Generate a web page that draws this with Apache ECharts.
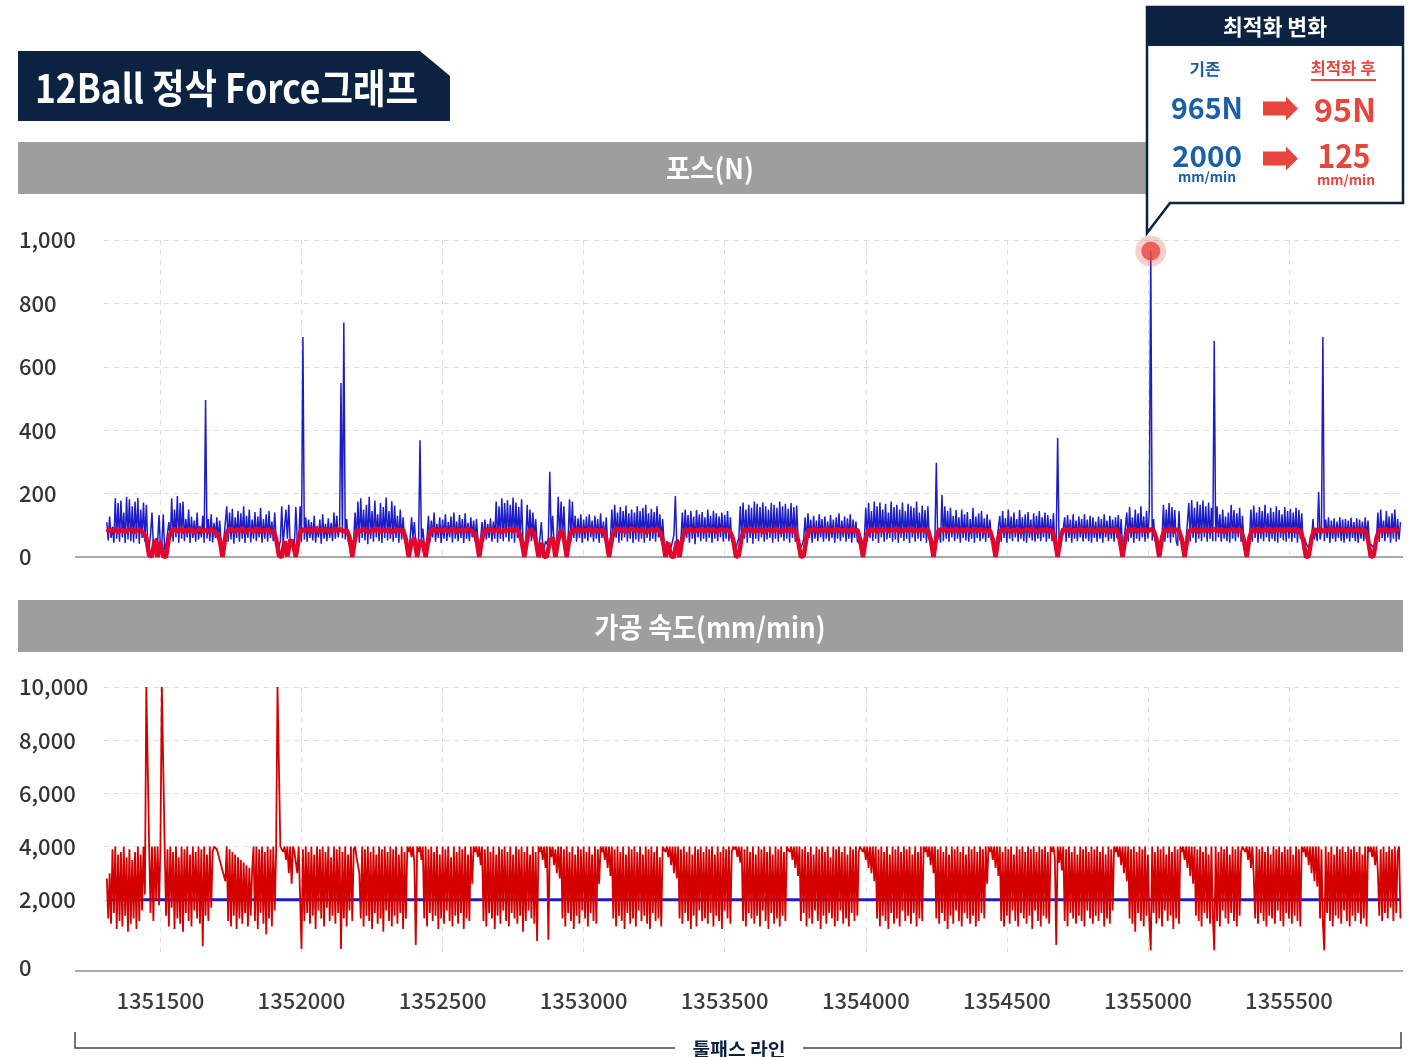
<!DOCTYPE html>
<html><head><meta charset="utf-8">
<script src="https://cdn.jsdelivr.net/npm/echarts@6/dist/echarts.min.js"></script>
<style>html,body{margin:0;padding:0;background:#fff}#c{width:1423px;height:1057px}</style>
</head><body><div id="c"></div>
<script>
// ---- data ----
const xStart = 1351310;      // first sampled toolpath line
const denseStep = 5;         // sampling of forceBefore / speedAfter
const afterStep = 10;        // sampling of forceAfter
const xMin = 1351300;
const xMax = 1355904;

// Force before optimisation (N), one value every 5 lines
const forceBefore = [
110,52,128,60,95,45,185,58,170,48,178,62,140,44,190,55,182,50,160,46,
175,58,186,42,150,60,172,48,165,40,30,72,140,38,25,60,45,132,28,42,
135,22,40,75,110,55,185,48,150,62,192,45,170,58,175,50,120,62,150,44,
128,60,115,48,140,55,98,62,130,45,495,58,120,50,135,46,108,60,125,52,
115,44,25,58,62,160,48,140,55,152,42,125,60,145,48,138,58,160,44,130,
60,150,46,118,58,142,50,128,62,155,45,120,58,135,48,145,60,112,50,140,
62,45,30,50,160,40,35,150,58,165,32,48,55,40,158,52,45,160,48,694,
55,125,48,118,60,110,52,130,45,98,62,118,42,135,58,105,50,122,60,108,
50,140,58,130,62,95,549,60,740,55,120,48,62,45,28,55,140,50,175,45,
185,60,150,52,165,40,190,58,145,48,178,62,135,50,170,44,158,60,188,52,
145,58,176,48,162,60,130,45,150,55,125,62,60,45,28,58,125,60,110,40,
30,50,368,50,90,40,25,58,130,45,115,62,140,48,105,60,125,44,118,58,
135,50,110,62,128,46,140,58,112,50,132,60,120,44,138,58,108,50,125,62,
115,48,120,55,30,60,110,48,118,55,105,60,122,48,112,58,175,45,160,58,
185,50,170,62,180,48,165,58,188,45,172,60,158,52,182,48,30,55,165,48,
150,50,140,58,120,45,30,58,110,35,28,50,40,60,269,55,130,48,30,60,
190,50,175,58,160,45,30,58,182,48,175,60,130,48,122,60,135,45,118,58,
128,50,135,62,115,48,130,58,120,45,138,60,112,50,125,45,30,55,150,48,
165,60,140,45,158,52,145,62,162,48,138,58,150,44,140,55,160,48,145,58,
155,45,165,60,138,50,152,58,142,48,160,62,135,50,120,45,28,50,40,45,
30,50,70,192,45,55,30,58,140,48,150,60,132,45,145,58,128,40,148,62,
135,50,142,58,125,48,150,60,130,45,146,58,138,50,128,62,140,48,132,58,
145,50,125,48,60,45,28,45,60,160,48,172,58,150,45,165,60,155,42,175,
58,168,50,158,62,172,48,160,55,150,60,170,45,165,58,155,48,175,62,160,
50,168,58,152,45,170,60,158,48,162,55,60,30,40,58,125,48,138,60,118,
45,130,58,115,50,135,62,120,48,128,58,112,50,132,60,118,45,125,58,138,
50,115,62,128,48,122,58,135,45,118,60,112,50,45,40,58,30,58,155,48,
170,60,145,50,175,58,160,44,172,62,150,48,168,55,140,60,175,48,158,55,
165,45,150,60,172,50,145,58,168,44,160,62,155,48,175,58,140,50,162,60,
148,45,160,55,50,40,28,55,297,55,80,45,196,50,160,58,145,48,155,62,
130,50,148,58,125,45,150,60,135,52,142,48,120,58,155,45,128,60,138,50,
145,58,122,48,135,60,118,52,45,40,28,55,58,130,48,145,60,122,45,150,
58,128,50,140,62,120,48,148,58,125,50,135,45,142,60,118,52,138,48,130,
58,145,50,125,62,140,48,132,58,120,50,138,45,60,375,50,28,55,58,125,
48,132,60,118,45,135,58,115,50,128,62,120,48,135,58,118,50,130,45,125,
60,112,48,128,58,120,45,135,62,115,50,130,58,118,48,125,60,132,45,120,
28,50,55,140,48,158,60,125,45,150,58,138,50,160,62,128,48,145,58,150,
965,52,120,48,60,40,28,50,58,165,48,150,60,170,45,158,62,148,50,35,
145,50,60,40,28,50,55,170,48,180,60,155,45,175,58,165,50,178,62,160,
48,172,58,155,50,681,50,160,62,135,48,150,58,128,50,140,45,165,58,148,
50,138,62,155,48,130,45,40,28,50,58,150,48,162,60,140,45,158,58,145,
50,165,62,138,48,155,58,142,50,160,45,148,60,135,52,158,48,145,58,152,
48,140,60,155,45,148,58,138,50,60,45,35,28,40,58,120,55,90,50,206,
55,80,694,50,118,60,125,45,115,58,122,48,112,60,125,50,118,45,120,58,
115,48,124,60,110,50,122,45,118,58,112,50,125,62,115,45,40,35,28,40,
58,140,48,150,60,115,50,145,62,128,45,138,58,150,48,120,55,110
];

// Force after optimisation (N), one value every 10 lines
const forceAfter = [
78,86,80,90,76,88,82,79,90,84, 77,88,83,75,60,5,2,55,0,48,
3,0,60,84,88,80,91,78,86,82, 89,76,84,90,80,86,78,88,82,74,
55,0,62,85,90,79,87,83,91,77, 85,88,80,92,78,86,82,89,76,84,
58,4,0,50,2,55,40,0,58,88, 82,90,78,86,91,80,87,83,89,77,
85,90,81,88,79,86,62,0,60,86, 80,89,83,77,88,84,91,79,86,82,
90,76,85,88,80,86,55,0,48,60, 0,52,45,0,58,84,90,78,87,82,
89,80,86,91,77,85,88,81,89,84, 78,58,0,60,86,82,90,79,87,84,
76,88,83,90,80,86,82,52,0,58, 88,80,55,0,45,0,2,50,62,0,
55,86,60,0,62,88,82,90,78,86, 83,91,79,87,84,80,88,56,0,60,
86,90,81,88,78,85,91,83,87,80, 89,76,84,88,82,90,79,56,0,45,
2,0,50,0,60,87,82,90,78,86, 84,91,80,87,83,89,77,85,88,81,
86,79,55,0,5,62,88,83,90,79, 86,82,89,77,85,88,80,91,84,78,
87,83,90,80,86,52,0,4,60,88, 82,90,79,86,84,91,78,87,83,89,
80,85,88,78,90,83,86,55,0,60, 87,81,90,78,86,83,89,80,88,84,
91,77,85,88,82,90,79,86,83,89, 80,86,56,0,62,88,82,90,79,86,
84,91,78,87,83,89,80,85,88,81, 90,78,86,84,55,0,60,87,82,90,
79,86,83,89,77,85,88,81,90,84, 78,87,83,89,80,86,54,0,62,88,
82,90,78,86,84,91,79,87,83,89, 80,85,88,81,90,78,86,84,88,55,
0,60,87,82,90,79,86,83,89,80, 88,84,58,0,62,88,82,90,79,86,
84,56,0,60,87,82,90,78,86,83, 89,80,85,88,81,90,78,86,84,89,
80,87,83,55,0,62,88,82,90,79, 86,84,91,78,87,83,89,80,85,88,
81,90,78,86,54,0,3,60,87,82, 90,79,86,84,91,78,87,83,89,80,
85,88,81,90,78,86,84,55,0,4, 60,87,82,90,79,86,84,88,80
];

// Feed speed after optimisation (mm/min), one value every 5 lines
const speedAfter = [
2800,1300,3000,1100,3900,1500,4000,900,3700,1200,3800,1000,4000,1400,3600,800,3900,1100,3500,1300,
3800,900,4000,1200,3700,1600,4000,2200,10000,10000,4000,1500,4000,1200,4000,2000,4000,1800,4000,10000,
10000,4000,1400,3900,1000,4000,1700,3800,900,4000,1300,3600,1100,4000,800,3900,1500,4000,1200,3700,
1000,4000,1600,3800,1300,4000,1100,3900,250,4000,1400,3700,1200,4000,1700,3800,4000,4000,3900,3700,
3500,3300,3100,2900,2700,4000,1200,3900,1000,3800,1400,3700,900,3600,1300,3500,1100,3400,1500,3300,
1000,3200,1400,3100,4000,1200,4000,900,3900,1500,4000,1100,3800,700,4000,1300,3900,1000,4000,1600,
3800,10000,10000,4000,4000,3800,4000,3500,4000,3000,4000,2600,4000,3800,3400,3000,4000,4000,150,3900,
1200,4000,1500,3800,1100,4000,1400,3700,900,4000,1600,3900,1300,4000,1000,3800,1700,4000,1200,3600,
1400,4000,1100,3900,1500,4000,150,3800,1300,4000,1000,3700,1600,4000,1200,3900,4000,3600,3300,3000,
1300,4000,1000,3900,1400,4000,1200,3800,900,4000,1500,3700,1100,4000,1300,3900,800,4000,1600,3800,
1200,4000,1000,3900,1400,4000,1100,3700,1500,4000,900,3800,1300,4000,3800,4000,3600,4000,3400,300,
4000,3800,4000,3500,4000,1300,4000,1000,3900,1500,4000,1200,3800,1400,4000,900,3700,1300,4000,1100,
3900,1600,4000,1200,3600,1000,4000,1400,3800,1100,4000,1500,3900,900,4000,1300,3700,1200,4000,2600,
4000,3800,4000,3600,4000,3300,4000,1200,3900,1000,4000,1500,3800,1300,4000,900,3700,1400,4000,1100,
3900,1600,4000,1200,3800,1000,4000,1500,3700,1300,4000,1100,3900,1400,4000,800,3800,1200,4000,1600,
3700,1300,4000,1100,3800,450,4000,3800,4000,3500,4000,3200,4000,500,4000,3600,4000,3300,3900,3000,
4000,2800,4000,1300,3900,1000,4000,1500,3800,1200,4000,900,3700,1400,4000,1100,3900,1600,4000,1300,
3800,1000,4000,1500,3700,1200,4000,1100,3900,2600,4000,3800,4000,3500,4000,3200,4000,2900,4000,1300,
3900,1000,4000,1400,3800,1200,4000,900,3700,1500,4000,1100,3900,1300,4000,1000,3800,1600,4000,1200,
3700,1400,4000,1100,3900,900,4000,1500,3800,1200,4000,1300,3600,1000,4000,4000,3800,4000,3600,4000,
3300,4000,3000,4000,2800,4000,1300,3900,1100,4000,1500,3800,1200,4000,900,3700,1400,4000,1000,3900,
1600,4000,1200,3800,1300,4000,1100,3900,1500,4000,1000,3700,1400,4000,1200,3800,900,4000,1600,3900,
1300,4000,1100,3800,4000,3900,4000,3600,4000,3400,4000,1200,3900,1000,4000,1500,3800,1300,4000,1100,
3700,1400,4000,1000,3900,1600,4000,1200,3800,900,4000,1500,3700,1100,4000,1300,3900,1000,4000,1400,
3800,1200,4000,4000,3800,4000,3500,4000,3200,4000,2900,4000,1200,3900,1500,4000,1000,3800,1300,4000,
1100,3700,1600,4000,1200,3900,900,4000,1400,3800,1100,4000,1500,3600,1300,4000,1000,3900,1200,4000,
1600,3800,1100,4000,1300,3700,1000,4000,1500,3900,1200,4000,1400,3800,4000,4000,3800,4000,3500,4000,
3200,4000,3000,4000,2700,4000,1300,3900,1000,4000,1400,3800,1200,4000,900,3700,1500,4000,1100,3900,
1300,4000,1000,3800,1600,4000,1200,3900,1400,4000,1100,3700,1500,4000,1000,3800,1300,4000,1200,4000,
3800,4000,3600,4000,3300,4000,3000,4000,1300,3900,1100,4000,1500,3800,1200,4000,900,3700,1400,4000,
1100,3900,1600,4000,1200,3800,1000,4000,1500,3700,1300,4000,1100,3900,1400,4000,1000,3800,1200,4000,
1500,3900,1300,4000,2600,4000,3800,4000,3500,4000,3200,4000,2900,4000,1200,3800,1000,4000,1400,3900,
1100,4000,1600,3700,1200,4000,1000,3900,1500,4000,1300,3800,1100,4000,1400,3900,900,4000,1600,3800,
1200,4000,1000,3900,1400,4000,1300,3800,1100,4000,3800,4000,3600,300,4000,3400,4000,3100,4000,1200,
3900,1000,4000,1500,3800,1300,4000,1100,3700,1400,4000,1200,3900,1000,4000,1600,3800,1300,4000,1100,
3900,1400,4000,1200,3800,1500,4000,1000,3700,1300,4000,1100,3900,1600,4000,3800,4000,3600,4000,3300,
4000,3000,4000,2700,4000,1300,3900,1100,4000,800,3800,1500,4000,1200,3900,1000,4000,1400,3700,1200,
100,4000,1500,3800,1100,4000,1300,3900,1000,4000,1600,3700,1200,4000,1400,3800,900,4000,1300,3900,
1100,4000,3800,4000,3500,4000,3200,4000,2900,4000,2600,4000,1400,3900,1200,4000,1000,3800,1500,4000,
1300,3700,1100,4000,1400,100,4000,1200,3800,1000,4000,1600,3900,1300,4000,1100,3700,1500,4000,1200,
3900,1000,4000,1400,3800,4000,4000,3800,4000,3500,4000,3200,4000,2900,1300,4000,1100,3900,1500,4000,
1200,3800,1000,4000,1400,3700,1300,4000,1100,3900,1600,4000,1200,3800,1000,4000,1500,3900,1300,4000,
1100,3700,1400,4000,1200,3900,1000,4000,3800,4000,3600,4000,3300,4000,3000,4000,2700,4000,2500,4000,
1300,3900,1100,100,4000,1500,3800,1200,4000,1000,3700,1400,4000,1300,3900,1100,4000,1600,3800,1200,
4000,1000,3900,1400,4000,1200,3800,1500,4000,1100,3700,1300,4000,1000,4000,3800,4000,3600,4000,3300,
4000,3000,1400,3900,1200,4000,1500,3800,1300,4000,1700,3900,1200,4000,1500,3800,4000,1300
];

// Feed speed before optimisation (constant, mm/min)
const speedBefore = [2000, 2000];
const speedBeforeX = [1351310, 1355895];

// Highlighted peak of the original force
const peakX = 1355010;
const peakValue = 965;

// ---- build ----
const F = "'Noto Sans CJK KR','Noto Sans',sans-serif";
const pts = (arr, step) => arr.map((v, i) => [xStart + i * step, v]);
const fmt = v => v.toLocaleString('en-US');

const mctx = document.createElement('canvas').getContext('2d');
function T(text, x, y, size, weight, color, target, align, z) {
  const font = weight + ' ' + size + 'px ' + F;
  mctx.font = font;
  let sx = 1;
  if (target) sx = target / mctx.measureText(text).width;
  const a = align || 'center';
  return { type: 'text', x: x, y: y, scaleX: sx, z: z || 10,
    style: { text: text, x: 0, y: 0, fill: color, font: font,
      align: a, textAlign: a, verticalAlign: 'middle', textVerticalAlign: 'middle' } };
}

const NAVY = '#0b2341', BLUE_T = '#1b5fa9', RED_T = '#e8453c', GRAY = '#9e9e9e';

const graphic = [
  { type: 'polygon', z: 5, shape: { points: [[18,51],[420,51],[450,76],[450,121],[18,121]] }, style: { fill: NAVY } },
  T('12Ball 정삭 Force그래프', 35, 88, 40, 'bold', '#fff', 383, 'left'),
  { type: 'rect', z: 1, shape: { x: 18, y: 142, width: 1385, height: 52 }, style: { fill: GRAY } },
  T('포스(N)', 710, 168, 28, 'bold', '#fff', 88),
  { type: 'rect', z: 1, shape: { x: 18, y: 600, width: 1385, height: 52 }, style: { fill: GRAY } },
  T('가공 속도(mm/min)', 710, 627, 28, 'bold', '#fff', 231),
  { type: 'line', z: 1, shape: { x1: 75, y1: 557, x2: 1403, y2: 557 }, style: { stroke: '#8c8c8c', lineWidth: 1.5 } },
  { type: 'line', z: 1, shape: { x1: 75, y1: 971, x2: 1403, y2: 971 }, style: { stroke: '#8c8c8c', lineWidth: 1.5 } },
  { type: 'polyline', z: 1, shape: { points: [[75,1032],[75,1048],[675,1048]] }, style: { stroke: '#444', lineWidth: 1.5, fill: null } },
  { type: 'polyline', z: 1, shape: { points: [[803,1048],[1401,1048],[1401,1032]] }, style: { stroke: '#444', lineWidth: 1.5, fill: null } },
  T('툴패스 라인', 739, 1049, 18, 'bold', NAVY, 93),
  { type: 'polygon', z: 20, shape: { points: [[1147,7],[1403,7],[1403,203],[1170,203],[1147,233]] }, style: { fill: '#fff', stroke: NAVY, lineWidth: 2.5, lineJoin: 'miter' } },
  { type: 'rect', z: 21, shape: { x: 1147, y: 7, width: 256, height: 39 }, style: { fill: NAVY } },
  T('최적화 변화', 1275, 27, 22, 'bold', '#fff', 104, 'center', 22),
  T('기존', 1205, 69, 16, 'bold', BLUE_T, 31, 'center', 22),
  T('최적화 후', 1343, 68, 16, 'bold', RED_T, 65, 'center', 22),
  { type: 'line', z: 22, shape: { x1: 1311, y1: 80, x2: 1376, y2: 80 }, style: { stroke: RED_T, lineWidth: 2 } },
  T('965N', 1207, 108, 29, 'bold', BLUE_T, 72, 'center', 22),
  T('95N', 1345, 110, 32, 'bold', RED_T, 62, 'center', 22),
  T('2000', 1207, 156, 29, 'bold', BLUE_T, 70, 'center', 22),
  T('mm/min', 1207, 177, 13, 'bold', BLUE_T, 58, 'center', 22),
  T('125', 1344, 155, 33, 'bold', RED_T, 53, 'center', 22),
  T('mm/min', 1346, 180, 13, 'bold', RED_T, 58, 'center', 22),
  { type: 'polygon', z: 22, shape: { points: [[1263,101.5],[1286,101.5],[1286,96.5],[1298,108.5],[1286,120.5],[1286,115.5],[1263,115.5]] }, style: { fill: RED_T } },
  { type: 'polygon', z: 22, shape: { points: [[1263,151.5],[1286,151.5],[1286,146.5],[1298,158.5],[1286,170.5],[1286,165.5],[1263,165.5]] }, style: { fill: RED_T } }
];

const gridLine = { show: true, lineStyle: { color: '#dcdcdc', type: [5, 5], width: 1 } };
const yLabel = { align: 'left', margin: 85, fontSize: 22, color: '#333', fontWeight: 500, fontFamily: F };

const xAxisBase = (gi, showLabel) => ({
  type: 'value', gridIndex: gi, min: xMin, max: xMax, splitNumber: 9,
  axisLine: { show: false }, axisTick: { show: false },
  axisLabel: { show: showLabel, fontSize: 22, color: '#3c3c3c', fontWeight: 500, fontFamily: F, margin: 19,
    showMinLabel: false, showMaxLabel: false, formatter: v => String(v) },
  splitLine: Object.assign({ showMinLine: false, showMaxLine: false }, gridLine),
  offset: showLabel ? 18 : 0
});

const option = {
  animation: false,
  graphic: graphic,
  grid: [
    { left: 104, right: 20, top: 240, height: 317 },
    { left: 104, right: 20, top: 687, height: 266 }
  ],
  xAxis: [ xAxisBase(0, false), xAxisBase(1, true) ],
  yAxis: [
    { type: 'value', gridIndex: 0, min: 0, max: 1000, interval: 200,
      axisLine: { show: false }, axisTick: { show: false },
      axisLabel: Object.assign({ formatter: fmt }, yLabel),
      splitLine: Object.assign({ showMinLine: false }, gridLine) },
    { type: 'value', gridIndex: 1, min: 0, max: 10000, interval: 2000,
      axisLine: { show: false }, axisTick: { show: false },
      axisLabel: Object.assign({
        formatter: v => v === 0 ? '{z|0}' : fmt(v),
        rich: { z: { padding: [30, 0, 0, 0], fontSize: 22, color: '#333', fontWeight: 500, fontFamily: F } }
      }, yLabel),
      splitLine: Object.assign({ showMinLine: false }, gridLine) }
  ],
  series: [
    { type: 'line', name: '기존 포스', xAxisIndex: 0, yAxisIndex: 0, data: pts(forceBefore, denseStep), showSymbol: false, symbol: 'none',
      lineStyle: { color: '#1c1cc8', width: 1.5 }, z: 2 },
    { type: 'line', name: '최적화 포스', xAxisIndex: 0, yAxisIndex: 0, data: pts(forceAfter, afterStep), showSymbol: false, symbol: 'none',
      lineStyle: { color: '#e1062c', width: 4.5 }, z: 3 },
    { type: 'scatter', xAxisIndex: 0, yAxisIndex: 0, data: [[peakX, peakValue]], symbolSize: 31,
      itemStyle: { color: 'rgba(232,69,60,0.32)' }, z: 5 },
    { type: 'scatter', xAxisIndex: 0, yAxisIndex: 0, data: [[peakX, peakValue]], symbolSize: 19,
      itemStyle: { color: '#e8453c' }, z: 6 },
    { type: 'line', name: '기존 속도', xAxisIndex: 1, yAxisIndex: 1, data: speedBefore.map((v, i) => [speedBeforeX[i], v]), showSymbol: false, symbol: 'none',
      lineStyle: { color: '#1a1acf', width: 3 }, z: 2 },
    { type: 'line', name: '최적화 속도', xAxisIndex: 1, yAxisIndex: 1, data: pts(speedAfter, denseStep), showSymbol: false, symbol: 'none',
      lineStyle: { color: '#d40000', width: 1.8 }, z: 3 }
  ]
};

const chart = echarts.init(document.getElementById('c'), null, { renderer: 'canvas' });
chart.setOption(option);
</script>
</body></html>
